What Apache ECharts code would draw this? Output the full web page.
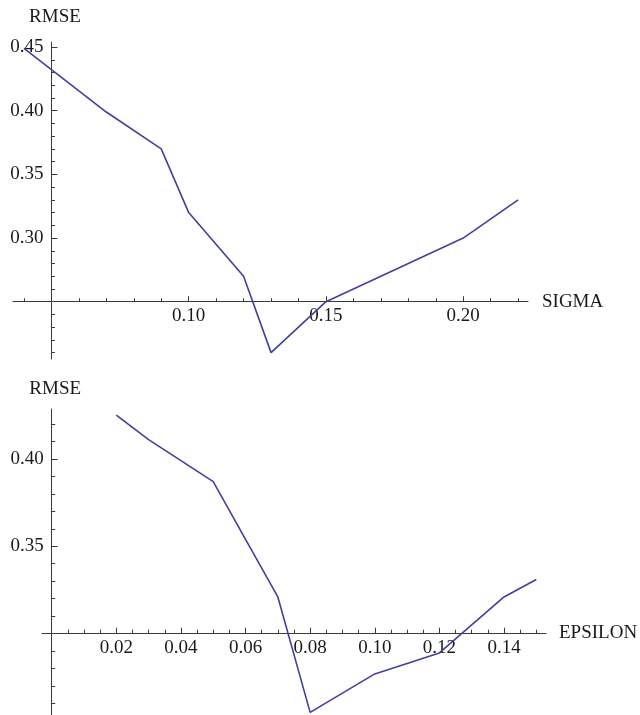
<!DOCTYPE html>
<html><head><meta charset="utf-8">
<script src="https://cdn.jsdelivr.net/npm/echarts@6/dist/echarts.min.js"></script>
<style>html,body{margin:0;padding:0;background:#fff}#c{width:640px;height:715px}</style>
</head><body><div id="c"></div>
<script>
// ---- data ----
const sigma = [0.04, 0.07, 0.09, 0.10, 0.12, 0.13, 0.15, 0.20, 0.22];
const rmseSigma = [0.449, 0.399, 0.370, 0.320, 0.270, 0.210, 0.250, 0.300, 0.330];
const epsilon = [0.02, 0.03, 0.05, 0.06, 0.07, 0.08, 0.10, 0.12, 0.14, 0.15];
const rmseEpsilon = [0.425, 0.411, 0.387, 0.354, 0.321, 0.255, 0.277, 0.289, 0.321, 0.331];

// ---- tick labels / ticks ----
const sigmaLabels = [0.10, 0.15, 0.20];
const sigmaMajor = [0.05, 0.10, 0.15, 0.20];
const sigmaMinor = [0.04, 0.06, 0.07, 0.08, 0.09, 0.11, 0.12, 0.13, 0.14, 0.16, 0.17, 0.18, 0.19, 0.21, 0.22];
const rmseTopLabels = [0.30, 0.35, 0.40, 0.45];
const rmseTopMajor = [0.25, 0.30, 0.35, 0.40, 0.45];
const rmseTopMinor = [0.21, 0.22, 0.23, 0.24, 0.26, 0.27, 0.28, 0.29, 0.31, 0.32, 0.33, 0.34, 0.36, 0.37, 0.38, 0.39, 0.41, 0.42, 0.43, 0.44];
const epsilonLabels = [0.02, 0.04, 0.06, 0.08, 0.10, 0.12, 0.14];
const epsilonMajor = [0, 0.02, 0.04, 0.06, 0.08, 0.10, 0.12, 0.14];
const epsilonMinor = [0.005, 0.01, 0.015, 0.025, 0.03, 0.035, 0.045, 0.05, 0.055, 0.065, 0.07, 0.075, 0.085, 0.09, 0.095, 0.105, 0.11, 0.115, 0.125, 0.13, 0.135, 0.145, 0.15];
const rmseBottomLabels = [0.35, 0.40];
const rmseBottomMajor = [0.30, 0.35, 0.40];
const rmseBottomMinor = [0.26, 0.27, 0.28, 0.29, 0.31, 0.32, 0.33, 0.34, 0.36, 0.37, 0.38, 0.39, 0.41, 0.42];

const FONT = "'Liberation Serif', 'Times New Roman', serif";
const AXC = '#3a3a3a';
const TXT = '#1a1a1a';
const LINE = '#4040a0';

const panels = [
  {grid:{left:13, top:42, width:515, height:317}, xmin:0.036, xmax:0.2236, ymin:0.205, ymax:0.454, xc:0.05, yc:0.25,
   xName:'SIGMA', xNameGap:14, yNameGap:25, xLabels:sigmaLabels, xMajor:sigmaMajor, xMinor:sigmaMinor,
   yLabels:rmseTopLabels, yMajor:rmseTopMajor, yMinor:rmseTopMinor, xs:sigma, ys:rmseSigma},
  {grid:{left:42, top:409, width:504, height:308}, xmin:-0.003, xmax:0.153, ymin:0.2535, ymax:0.4285, xc:0, yc:0.30,
   xName:'EPSILON', xNameGap:13, yNameGap:20, xLabels:epsilonLabels, xMajor:epsilonMajor, xMinor:epsilonMinor,
   yLabels:rmseBottomLabels, yMajor:rmseBottomMajor, yMinor:rmseBottomMinor, xs:epsilon, ys:rmseEpsilon}
];

const grid = [], xAxis = [], yAxis = [], series = [];
panels.forEach((p, i) => {
  grid.push(Object.assign({containLabel:false}, p.grid));
  const xOff = -(p.yc - p.ymin) / (p.ymax - p.ymin) * p.grid.height;
  const yOff = -(p.xc - p.xmin) / (p.xmax - p.xmin) * p.grid.width;
  const xi = xAxis.length, yi = yAxis.length;
  xAxis.push({
    type:'value', gridIndex:i, min:p.xmin, max:p.xmax, position:'bottom', offset:xOff,
    name:p.xName, nameLocation:'end', nameGap:p.xNameGap,
    nameTextStyle:{fontFamily:FONT, fontSize:19, color:TXT, align:'left', verticalAlign:'middle'},
    axisLine:{show:true, onZero:false, lineStyle:{color:AXC, width:1}},
    axisTick:{show:true, inside:true, length:5.5, customValues:p.xMajor, lineStyle:{color:AXC, width:1}},
    axisLabel:{show:true, customValues:p.xLabels, margin:5, fontFamily:FONT, fontSize:19, color:TXT,
      formatter:v => v.toFixed(2)},
    splitLine:{show:false}
  });
  xAxis.push({
    type:'value', gridIndex:i, min:p.xmin, max:p.xmax, position:'bottom', offset:xOff,
    axisLine:{show:false, onZero:false},
    axisTick:{show:true, inside:true, length:3.5, customValues:p.xMinor, lineStyle:{color:AXC, width:1}},
    axisLabel:{show:false}, splitLine:{show:false}
  });
  yAxis.push({
    type:'value', gridIndex:i, min:p.ymin, max:p.ymax, position:'left', offset:yOff,
    name:'RMSE', nameLocation:'end', nameGap:p.yNameGap,
    nameTextStyle:{fontFamily:FONT, fontSize:19, color:TXT, align:'center', verticalAlign:'middle', padding:[0,0,0,7]},
    axisLine:{show:true, onZero:false, lineStyle:{color:AXC, width:1}},
    axisTick:{show:true, inside:true, length:6, customValues:p.yMajor, lineStyle:{color:AXC, width:1}},
    axisLabel:{show:true, customValues:p.yLabels, margin:8, fontFamily:FONT, fontSize:19, color:TXT,
      formatter:v => v.toFixed(2)},
    splitLine:{show:false}
  });
  yAxis.push({
    type:'value', gridIndex:i, min:p.ymin, max:p.ymax, position:'left', offset:yOff,
    axisLine:{show:false, onZero:false},
    axisTick:{show:true, inside:true, length:3.5, customValues:p.yMinor, lineStyle:{color:AXC, width:1}},
    axisLabel:{show:false}, splitLine:{show:false}
  });
  series.push({
    type:'line', xAxisIndex:xi, yAxisIndex:yi, symbol:'none', clip:false, animation:false,
    lineStyle:{color:LINE, width:1.6},
    data:p.xs.map((x, k) => [x, p.ys[k]])
  });
});

const chart = echarts.init(document.getElementById('c'), null, {renderer:'canvas'});
chart.setOption({animation:false, backgroundColor:'#fff', grid, xAxis, yAxis, series});
</script>
</body></html>
